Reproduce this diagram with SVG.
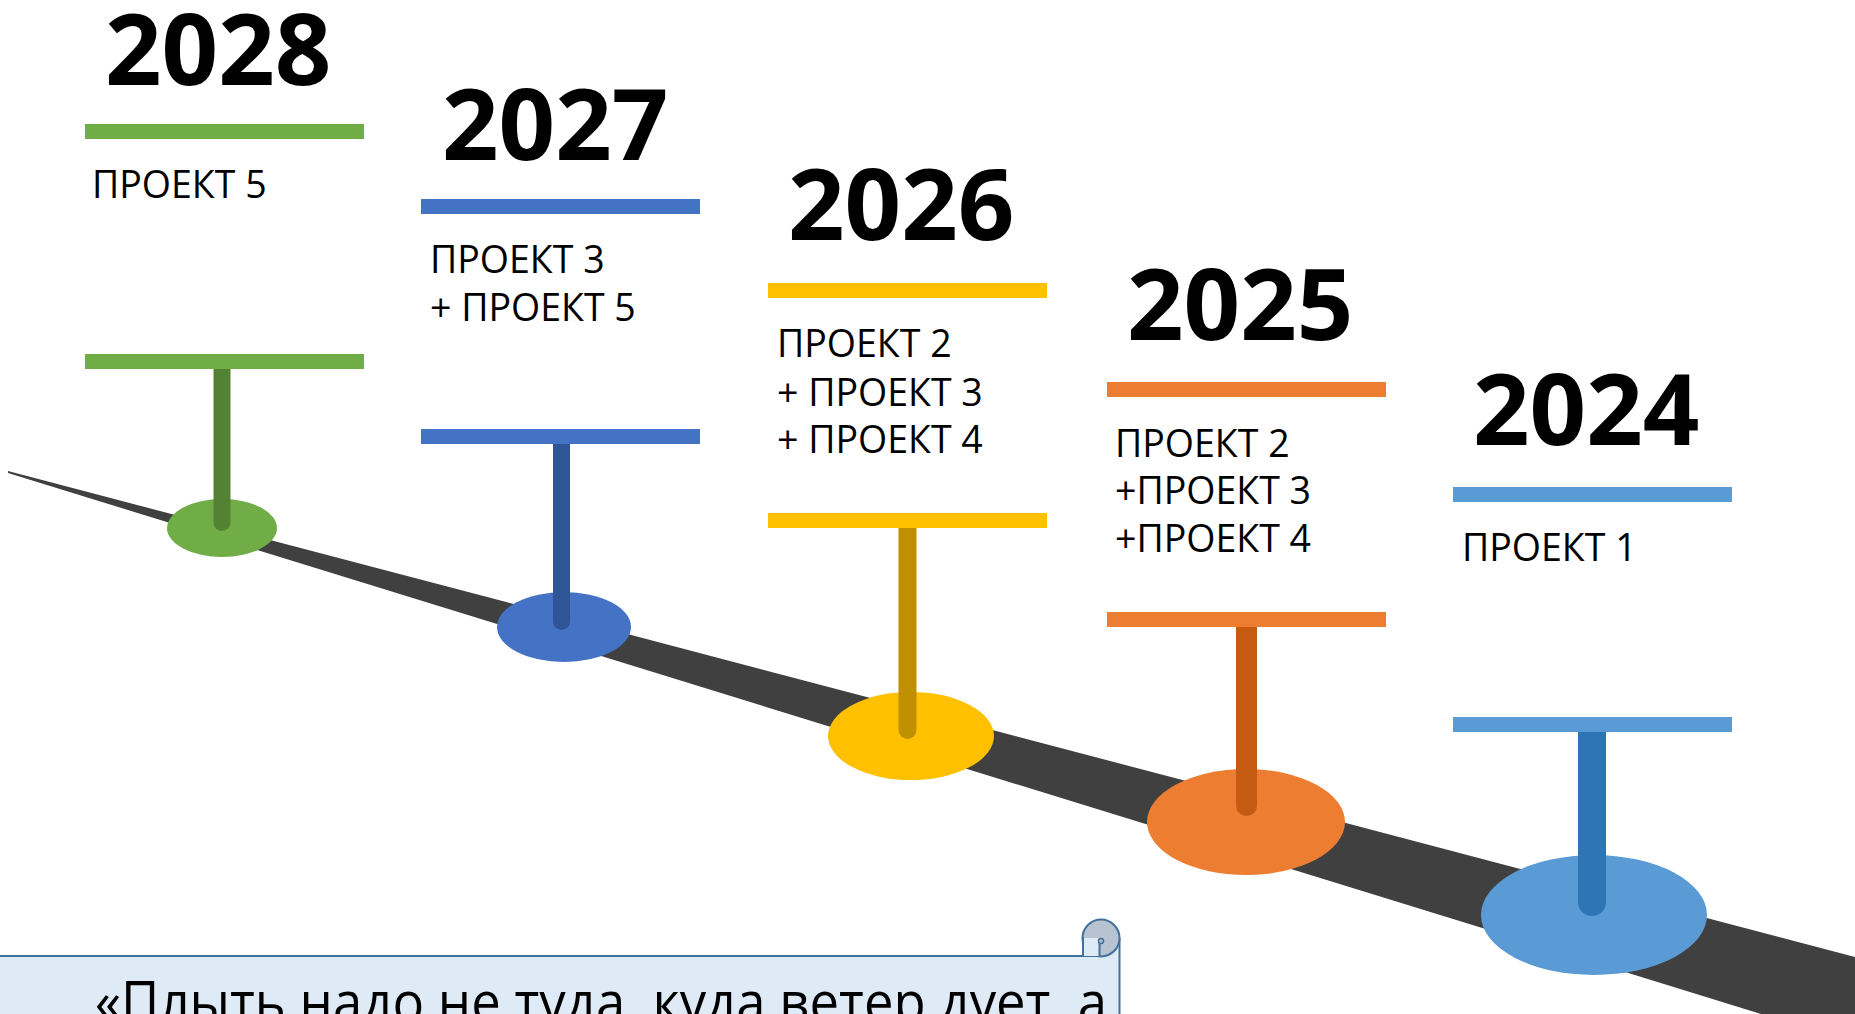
<svg xmlns="http://www.w3.org/2000/svg" width="1855" height="1014" viewBox="0 0 1855 1014">
  <style>
    .year { font-family: "Open Sans", "Liberation Sans", sans-serif; font-weight: 700; font-size: 99px; fill: #000; }
    .item { font-family: "Open Sans", "Liberation Sans", sans-serif; font-weight: 400; font-size: 37.5px; fill: #000; }
    .quote { font-family: "Open Sans", "Liberation Sans", sans-serif; font-weight: 400; font-size: 56px; fill: #000; }
    .stem { stroke-linecap: round; fill: none; }
  </style>
  <rect width="1855" height="1014" fill="#ffffff"/>

  <g id="connectors">
    <polygon points="8,471 1855,957 1855,1043 8,473" fill="#404040"/>
  </g>

  <g id="node-2028">
    <text class="year" x="105" y="85">2028</text>
    <rect x="85" y="124" width="279" height="15" fill="#70AD47"/>
    <text class="item" x="92" y="198">ПРОЕКТ 5</text>
    <ellipse cx="222" cy="528" rx="55" ry="29" fill="#70AD47"/>
    <line class="stem" x1="222" y1="369" x2="222" y2="522.5" stroke="#548235" stroke-width="17"/>
    <rect x="85" y="354" width="279" height="15" fill="#70AD47"/>
  </g>

  <g id="node-2027">
    <text class="year" x="442" y="160">2027</text>
    <rect x="421" y="199" width="279" height="15" fill="#4472C4"/>
    <text class="item" x="430" y="273">ПРОЕКТ 3</text>
    <text class="item" x="430" y="321">+ ПРОЕКТ 5</text>
    <ellipse cx="564" cy="627" rx="67" ry="35" fill="#4472C4"/>
    <line class="stem" x1="561.5" y1="444" x2="561.5" y2="621.5" stroke="#2F5597" stroke-width="17"/>
    <rect x="421" y="429" width="279" height="15" fill="#4472C4"/>
  </g>

  <g id="node-2026">
    <text class="year" x="788" y="240">2026</text>
    <rect x="768" y="283" width="279" height="15" fill="#FFC000"/>
    <text class="item" x="777" y="357">ПРОЕКТ 2</text>
    <text class="item" x="777" y="406">+ ПРОЕКТ 3</text>
    <text class="item" x="777" y="453">+ ПРОЕКТ 4</text>
    <ellipse cx="911" cy="736" rx="83" ry="44" fill="#FFC000"/>
    <line class="stem" x1="907.5" y1="528" x2="907.5" y2="730" stroke="#BF9000" stroke-width="18"/>
    <rect x="768" y="513" width="279" height="15" fill="#FFC000"/>
  </g>

  <g id="node-2025">
    <text class="year" x="1127" y="340">2025</text>
    <rect x="1107" y="382" width="279" height="15" fill="#ED7D31"/>
    <text class="item" x="1115" y="457">ПРОЕКТ 2</text>
    <text class="item" x="1115" y="504">+ПРОЕКТ 3</text>
    <text class="item" x="1115" y="552">+ПРОЕКТ 4</text>
    <ellipse cx="1246" cy="822" rx="99" ry="53" fill="#ED7D31"/>
    <line class="stem" x1="1246.5" y1="627" x2="1246.5" y2="805.5" stroke="#C55A11" stroke-width="21"/>
    <rect x="1107" y="612" width="279" height="15" fill="#ED7D31"/>
  </g>

  <g id="node-2024">
    <text class="year" x="1473" y="445">2024</text>
    <rect x="1453" y="487" width="279" height="15" fill="#5B9BD5"/>
    <text class="item" x="1462" y="561">ПРОЕКТ 1</text>
    <ellipse cx="1594" cy="915" rx="113" ry="60" fill="#5B9BD5"/>
    <line class="stem" x1="1592" y1="732" x2="1592" y2="902" stroke="#2E75B6" stroke-width="28"/>
    <rect x="1453" y="717" width="279" height="15" fill="#5B9BD5"/>
  </g>

  <g id="quote">
    <path d="M -5 956 H 1101 A 18.5 18.5 0 0 0 1119.5 938 V 1030 H -5 Z" fill="#DEEBF7" stroke="#41719C" stroke-width="2"/>
    <circle cx="1101" cy="938" r="18.5" fill="#B7C3D0" stroke="#41719C" stroke-width="2"/>
    <path d="M 1083 938 H 1099 V 956 H 1083 Z" fill="#DEEBF7"/>
    <line x1="1083" y1="937" x2="1083" y2="956" stroke="#41719C" stroke-width="2"/>
    <line x1="1099.5" y1="942" x2="1099.5" y2="956" stroke="#41719C" stroke-width="2"/>
    <circle cx="1101" cy="941" r="2.5" fill="#B7C3D0" stroke="#41719C" stroke-width="1.5"/>
    <text class="quote" x="95" y="1022" textLength="1012" lengthAdjust="spacingAndGlyphs">«Плыть надо не туда, куда ветер дует, а</text>
  </g>
</svg>
